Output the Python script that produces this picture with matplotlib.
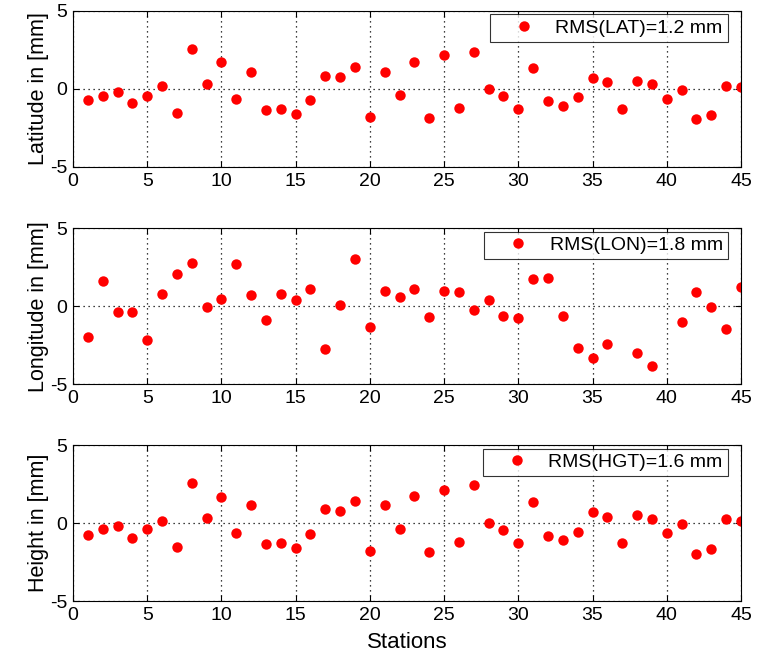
import matplotlib
matplotlib.use("Agg")
import matplotlib.pyplot as plt
import numpy as np

plt.rcParams["font.family"] = ["Liberation Sans", "DejaVu Sans"]
plt.rcParams["axes.unicode_minus"] = False

stations = np.arange(1, 46)

lat = [-0.73, -0.43, -0.17, -0.92, -0.43, 0.17, -1.54, 2.56, 0.34, 1.71,
       -0.62, 1.11, -1.32, -1.28, -1.62, -0.68, 0.85, 0.77, 1.39, -1.82,
       1.09, -0.41, 1.73, -1.84, 2.16, -1.20, 2.37, -0.02, -0.47, -1.28,
       1.32, -0.79, -1.07, -0.53, 0.73, 0.43, -1.26, 0.53, 0.32, -0.66,
       -0.09, -1.90, -1.67, 0.21, 0.13]

# stations 37 and 40 have no longitude solution
lon = [-1.99, 1.62, -0.36, -0.36, -2.16, 0.79, 2.09, 2.76, -0.02, 0.47,
       2.71, 0.71, -0.88, 0.77, 0.38, 1.09, -2.71, 0.06, 3.01, -1.30,
       0.96, 0.58, 1.11, -0.68, 0.96, 0.90, -0.24, 0.38, -0.60, -0.75,
       1.75, 1.82, -0.62, -2.65, -3.29, -2.41, np.nan, -3.01, -3.82, np.nan,
       -0.98, 0.92, -0.06, -1.45, 1.26]

hgt = [-0.73, -0.38, -0.15, -0.96, -0.38, 0.17, -1.50, 2.61, 0.36, 1.67,
       -0.62, 1.18, -1.32, -1.28, -1.60, -0.71, 0.92, 0.81, 1.41, -1.79,
       1.15, -0.38, 1.75, -1.82, 2.16, -1.20, 2.44, 0.00, -0.43, -1.26,
       1.37, -0.81, -1.07, -0.53, 0.73, 0.43, -1.26, 0.51, 0.30, -0.64,
       -0.04, -1.94, -1.65, 0.26, 0.17]

panels = [
    (lat, "Latitude in [mm]", "RMS(LAT)=1.2 mm"),
    (lon, "Longitude in [mm]", "RMS(LON)=1.8 mm"),
    (hgt, "Height in [mm]", "RMS(HGT)=1.6 mm"),
]

fig = plt.figure(figsize=(7.57, 6.53), dpi=100)
bottoms = [0.7443, 0.4115, 0.0792]

for (vals, ylab, leg), b in zip(panels, bottoms):
    ax = fig.add_axes([0.0964, b, 0.8824, 0.2389])
    ax.plot(stations, vals, linestyle="none", marker="o", markersize=7.5,
            color="red", markeredgewidth=0, label=leg)
    ax.set_xlim(0, 45)
    ax.set_ylim(-5, 5)
    ax.set_xticks(range(0, 46, 5))
    ax.set_yticks([-5, 0, 5])
    ax.grid(True, linestyle=(0, (1, 3)), color="black", linewidth=0.9)
    ax.tick_params(direction="in", top=True, right=True, length=4,
                   labelsize=14, pad=4)
    ax.set_ylabel(ylab, fontsize=15.5, labelpad=1)
    lg = ax.legend(loc="upper right", bbox_to_anchor=(0.980, 0.979),
                   fontsize=14, frameon=True, fancybox=False,
                   edgecolor="black", numpoints=1, handlelength=3.0,
                   handletextpad=0.1, borderpad=0.25, borderaxespad=0)
    lg.get_frame().set_linewidth(0.8)
    for s in ax.spines.values():
        s.set_linewidth(0.8)

ax.set_xlabel("Stations", fontsize=16, labelpad=6)

fig.savefig("out.png", dpi=100)
